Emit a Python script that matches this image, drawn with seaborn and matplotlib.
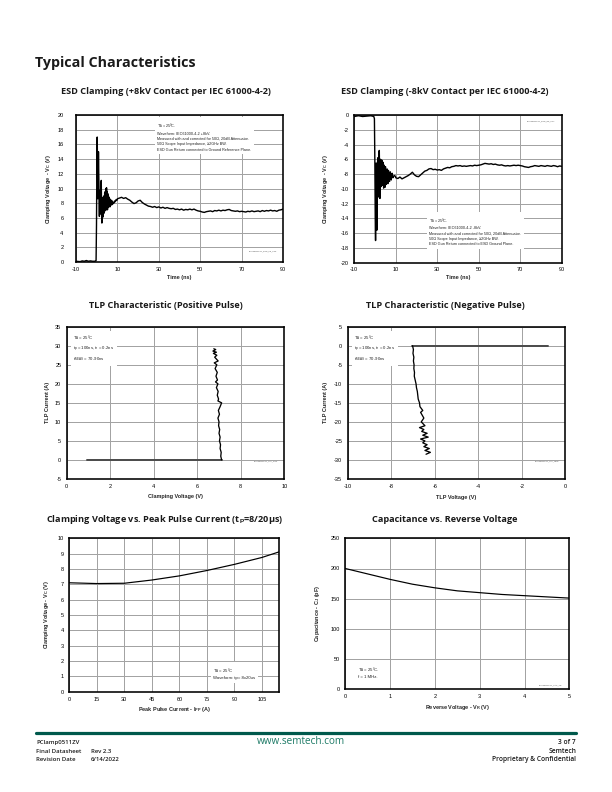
import numpy as np
import pandas as pd
import matplotlib
matplotlib.use("Agg")
import matplotlib.pyplot as plt
import matplotlib.transforms as mtransforms
import seaborn as sns

# ---------------- data ----------------
# ESD clamping +8kV (time ns, voltage V)
esd_pos_t = [-10, -8, -7, -6, -5, -4, -3, -2, -1, -0.5,
             -0.3, -0.1, 0.1, 0.25, 0.4, 0.55, 0.7, 0.85, 1.0, 1.15, 1.3, 1.45, 1.6, 1.75, 1.9,
             2.05, 2.2, 2.35, 2.5, 2.65, 2.8, 2.95, 3.1, 3.25, 3.4, 3.55, 3.7, 3.85, 4.0, 4.15,
             4.3, 4.45, 4.6, 4.75, 4.9, 5.05, 5.2, 5.35, 5.5, 5.65, 5.8, 5.95, 6.1, 6.25, 6.4,
             6.55, 6.7, 6.85, 7.0, 7.2, 7.4, 7.6, 7.8, 8.0, 8.3, 8.6, 9.0, 9.4, 9.8,
             10, 11, 12, 13, 14, 15, 16, 17, 18, 19, 20, 21, 22, 23, 24, 25, 26, 27, 28, 29,
             30, 31, 32, 33, 34, 35, 36, 37, 38, 39, 40, 41, 42, 43, 44, 45, 46, 47, 48, 49,
             50, 51, 52, 53, 54, 55, 56, 57, 58, 59, 60, 61, 62, 63, 64, 65, 66, 67, 68, 69,
             70, 71, 72, 73, 74, 75, 76, 77, 78, 79, 80, 81, 82, 83, 84, 85, 86, 87, 88, 89, 90]
esd_pos_v = [0.1, 0.05, 0.15, 0.1, 0.2, 0.1, 0.15, 0.1, 0.1, 0.15,
             0.2, 5.0, 14.0, 17.0, 12.5, 8.6, 10.5, 15.0, 12.0, 8.0, 6.2, 9.5, 6.5, 9.8, 7.0,
             10.5, 11.1, 7.5, 5.3, 8.5, 6.0, 8.8, 6.2, 8.4, 6.6, 9.0, 6.8, 9.4, 7.2, 9.6,
             7.0, 10.0, 7.2, 10.1, 7.4, 9.6, 7.1, 9.3, 7.4, 9.0, 7.5, 8.8, 7.6, 8.6, 7.5,
             8.5, 7.7, 8.3, 7.8, 8.4, 7.8, 8.2, 7.9, 8.1, 8.0, 8.3, 8.2, 8.5, 8.4,
             8.6, 8.7, 8.8, 8.65, 8.75, 8.55, 8.4, 8.15, 7.95, 8.05, 8.3, 8.4, 8.1, 7.9, 7.75, 7.6, 7.55, 7.45, 7.55, 7.4,
             7.5, 7.35, 7.45, 7.3, 7.4, 7.3, 7.25, 7.3, 7.15, 7.2, 7.1, 7.2, 7.05, 7.15, 7.1, 7.2, 7.1, 7.2, 7.05, 6.95,
             6.9, 6.8, 6.75, 6.85, 6.9, 6.95, 6.85, 7.0, 6.95, 7.05, 6.95, 7.05, 7.0, 7.1, 7.15, 7.0, 6.95, 6.9, 6.95, 6.85,
             6.9, 6.85, 6.8, 6.9, 6.85, 6.95, 6.85, 6.9, 6.95, 6.85, 7.0, 6.9, 7.0, 6.95, 7.05, 6.95, 7.0, 6.9, 7.05, 7.1, 7.2]

# ESD clamping -8kV
esd_neg_t = [-10, -8, -6, -4, -2, -0.6, -0.3,
             -0.1, 0.1, 0.25, 0.4, 0.55, 0.7, 0.85, 1.0, 1.15, 1.3, 1.45, 1.6, 1.75, 1.9,
             2.05, 2.2, 2.35, 2.5, 2.65, 2.8, 2.95, 3.1, 3.25, 3.4, 3.55, 3.7, 3.85, 4.0, 4.15,
             4.3, 4.45, 4.6, 4.75, 4.9, 5.05, 5.2, 5.4, 5.6, 5.8, 6.0, 6.2, 6.4, 6.6, 6.8,
             7.0, 7.2, 7.4, 7.6, 7.8, 8.0, 8.3, 8.6, 9.0, 9.4, 9.8,
             10, 11, 12, 13, 14, 15, 16, 17, 18, 19, 20, 21, 22, 23, 24, 25, 26, 27, 28, 29,
             30, 31, 32, 33, 34, 35, 36, 37, 38, 39, 40, 41, 42, 43, 44, 45, 46, 47, 48, 49,
             50, 51, 52, 53, 54, 55, 56, 57, 58, 59, 60, 61, 62, 63, 64, 65, 66, 67, 68, 69,
             70, 71, 72, 73, 74, 75, 76, 77, 78, 79, 80, 81, 82, 83, 84, 85, 86, 87, 88, 89, 90]
esd_neg_v = [-0.2, -0.1, -0.2, -0.15, -0.1, -0.2, -0.5,
             -6.0, -14.0, -17.0, -12.0, -6.5, -9.0, -15.6, -12.0, -7.0, -5.8, -9.5, -11.1, -7.5, -5.0,
             -4.8, -8.0, -11.3, -9.0, -6.0, -7.0, -9.7, -8.5, -6.1, -7.5, -9.5, -7.0, -6.4, -8.8, -9.9,
             -7.2, -6.8, -9.0, -9.8, -7.3, -7.0, -9.2, -9.4, -7.4, -7.3, -9.0, -9.3, -7.5, -7.6, -8.8,
             -9.0, -7.8, -7.7, -8.6, -8.8, -8.0, -7.9, -8.5, -8.3, -8.2, -8.3,
             -8.5, -8.6, -8.4, -8.65, -8.5, -8.35, -8.2, -8.0, -7.75, -8.1, -8.3, -8.35, -8.1, -7.85, -7.6, -7.5, -7.3, -7.25, -7.4, -7.35,
             -7.45, -7.4, -7.5, -7.3, -7.2, -7.1, -7.15, -7.0, -6.95, -6.85, -6.9, -6.85, -6.95, -6.9, -6.95, -6.9, -6.85, -6.9, -6.8, -6.85,
             -6.8, -6.75, -6.65, -6.55, -6.6, -6.65, -6.6, -6.7, -6.65, -6.75, -6.8, -6.75, -6.85, -6.9, -6.85, -6.9, -6.85, -6.8, -6.85, -6.8,
             -6.85, -6.9, -7.0, -7.05, -7.1, -7.0, -6.95, -6.85, -6.9, -6.95, -6.85, -6.9, -6.95, -6.85, -6.9, -6.95, -6.85, -6.9, -7.0, -6.9, -6.95]

# TLP positive pulse
tlp_pos_off_v = [0.92, 7.12]
tlp_pos_off_i = [0.0, 0.0]
tlp_pos_v = [7.12, 7.08, 7.10, 7.05, 7.07, 7.02, 7.05, 7.00, 7.03, 6.98, 7.00, 6.95, 7.02, 6.97, 7.05,
             7.12, 6.95, 6.98, 6.92, 6.96, 6.88, 6.95, 6.84, 6.93, 6.86, 6.92, 6.82, 6.90, 6.78,
             6.96, 6.80, 6.90, 6.74, 6.88, 6.72, 6.85, 6.76]
tlp_pos_i = [0.0, 1.0, 2.0, 3.0, 4.0, 5.0, 6.0, 7.0, 8.0, 9.0, 10.0, 11.0, 12.0, 13.0, 14.0,
             15.0, 15.5, 16.0, 17.0, 18.0, 19.0, 20.0, 20.5, 21.0, 22.0, 23.0, 24.0, 25.0, 25.5,
             26.0, 27.0, 27.5, 28.0, 28.3, 28.6, 29.0, 29.2]

# TLP negative pulse
tlp_neg_off_v = [-7.06, -0.78]
tlp_neg_off_i = [0.0, 0.0]
tlp_neg_v = [-7.02, -6.98, -7.00, -6.96, -6.98, -6.95, -6.96, -6.93, -6.94, -6.90, -6.86, -6.84,
             -6.80, -6.78, -6.76, -6.70, -6.68, -6.55, -6.65, -6.60, -6.50, -6.62, -6.45, -6.70,
             -6.50, -6.60, -6.35, -6.55, -6.30, -6.65, -6.45, -6.55, -6.35, -6.50, -6.25, -6.45,
             -6.20, -6.40]
tlp_neg_i = [0.0, -1.0, -2.0, -3.0, -4.0, -5.0, -6.0, -7.0, -8.0, -9.0, -10.0, -11.0,
             -12.0, -13.0, -14.0, -15.0, -16.0, -17.0, -17.5, -18.0, -19.0, -20.0, -21.0, -21.5,
             -22.0, -22.5, -23.0, -23.5, -24.0, -24.5, -25.0, -25.5, -26.0, -26.5, -27.0, -27.5,
             -28.0, -28.5]

# Clamping voltage vs peak pulse current
ipp = [0, 15, 30, 45, 60, 75, 90, 105, 114.5]
vc = [7.1, 7.05, 7.07, 7.28, 7.55, 7.9, 8.3, 8.75, 9.12]

# Capacitance vs reverse voltage
vr = [0, 0.5, 1, 1.5, 2, 2.5, 3, 3.5, 4, 4.5, 5]
cj = [200, 191, 182, 174, 168, 163, 160, 157, 155, 153, 151]

# ---------------- style ----------------
sns.set_theme(style="white")
plt.rcParams['font.family'] = ['Liberation Sans', 'DejaVu Sans']
plt.rcParams['axes.unicode_minus'] = False
plt.rcParams['mathtext.fontset'] = 'custom'
plt.rcParams['mathtext.rm'] = 'Liberation Sans'
plt.rcParams['mathtext.it'] = 'Liberation Sans'
plt.rcParams['mathtext.bf'] = 'Liberation Sans:bold'

W, H = 612, 792
fig = plt.figure(figsize=(W / 72, H / 72), dpi=72)
fig.patch.set_facecolor('white')

GRID = '#a3a3a3'
TICK_FS = 5.5
LAB_FS = 5.5
TITLE_FONT = ['Open Sans', 'DejaVu Sans']
GREEN = '#00594c'


def make_ax(x0, y0, x1, y1):
    return fig.add_axes([x0 / W, 1 - y1 / H, (x1 - x0) / W, (y1 - y0) / H])


def style_ax(ax, xlim, ylim, xticks, yticks, xlabel, ylabel, ylab_x, xlab_y, ypad=5.5, xpad=4.5):
    ax.set_xlim(*xlim)
    ax.set_ylim(*ylim)
    ax.set_xticks(xticks)
    ax.set_yticks(yticks)
    ax.grid(True, color=GRID, lw=1.0)
    ax.set_axisbelow(True)
    for s in ax.spines.values():
        s.set_color('black')
        s.set_linewidth(1.6)
        s.set_visible(True)
    ax.tick_params(axis='both', length=0, labelsize=TICK_FS, colors='black')
    ax.tick_params(axis='y', pad=ypad)
    ax.tick_params(axis='x', pad=xpad)
    ax.set_xlabel(xlabel, fontsize=LAB_FS, fontweight='bold')
    ax.set_ylabel(ylabel, fontsize=LAB_FS, fontweight='bold')
    ax.yaxis.set_label_coords(ylab_x / W, 0.5,
                              transform=mtransforms.blended_transform_factory(fig.transFigure, ax.transAxes))
    ax.xaxis.set_label_coords(0.5, 1 - xlab_y / H,
                              transform=mtransforms.blended_transform_factory(ax.transAxes, fig.transFigure))
    ax.xaxis.label.set_va('center')
    ax.yaxis.label.set_va('center')
    ax.set_facecolor('white')


def note(ax, x, y, lines, ha='left', fs=4.0):
    ax.text(x, y, "\n".join(lines), transform=ax.transAxes, ha=ha, va='top', fontsize=fs,
            linespacing=1.45, color='#222222',
            bbox=dict(facecolor='white', edgecolor='none', pad=2.5), zorder=3)


def tiny(ax, x, y, s):
    ax.text(x, y, s, transform=ax.transAxes, ha='right', va='center', fontsize=2.0,
            color='#555555', zorder=3)


def title(x, y, s):
    fig.text(x / W, 1 - y / H, s, ha='center', va='center', fontsize=9.1, fontweight='bold',
             family=TITLE_FONT, color='#1a1a1a')


# heading
fig.text(35 / W, 1 - 63 / H, "Typical Characteristics", ha='left', va='center', fontsize=14.2,
         fontweight='bold', family=TITLE_FONT, color='#1a1a1a')

# ---- Plot 1: ESD +8kV ----
title(165.5, 92, "ESD Clamping (+8kV Contact per IEC 61000-4-2)")
ax1 = make_ax(76, 115, 283, 262)
sns.lineplot(x=esd_pos_t, y=esd_pos_v, ax=ax1, sort=False, estimator=None, color='black', lw=1.4)
style_ax(ax1, (-10, 90), (0, 20), range(-10, 91, 20), range(0, 21, 2), "Time (ns)",
         "Clamping Voltage  - V$_\\mathregular{C}$ (V)", 49, 277.7, ypad=12.5, xpad=4.5)
note(ax1, 0.392, 0.955, ["T$_\\mathregular{A}$ = 25ºC.", "Waveform: IEC61000-4-2 +8kV.",
                         "Measured with and corrected for 50Ω, 20dB Attenuator.",
                         "50Ω Scope Input Impedance, ≥2GHz BW.",
                         "ESD Gun Return connected to Ground Reference Plane."], fs=3.7)
tiny(ax1, 0.97, 0.075, "PClamp0511ZV_ESD_P8_CNT")

# ---- Plot 2: ESD -8kV ----
title(444.7, 92, "ESD Clamping (-8kV Contact per IEC 61000-4-2)")
ax2 = make_ax(354.3, 115, 561.7, 262.7)
sns.lineplot(x=esd_neg_t, y=esd_neg_v, ax=ax2, sort=False, estimator=None, color='black', lw=1.4)
style_ax(ax2, (-10, 90), (-20, 0), range(-10, 91, 20), range(-20, 1, 2), "Time (ns)",
         "Clamping Voltage  - V$_\\mathregular{C}$ (V)", 325, 277.7, ypad=5.5, xpad=4.5)
note(ax2, 0.362, 0.315, ["T$_\\mathregular{A}$ = 25ºC.", "Waveform: IEC61000-4-2 -8kV.",
                         "Measured with and corrected for 50Ω, 20dB Attenuator.",
                         "50Ω Scope Input Impedance, ≥2GHz BW.",
                         "ESD Gun Return connected to ESD Ground Plane."], fs=3.7)
tiny(ax2, 0.97, 0.955, "PClamp0511ZV_ESD_N8_CNT")

# ---- Plot 3: TLP positive ----
title(165.7, 305, "TLP Characteristic (Positive Pulse)")
ax3 = make_ax(66.7, 326.7, 284.3, 479)
sns.lineplot(x=tlp_pos_off_v, y=tlp_pos_off_i, ax=ax3, sort=False, estimator=None, color='#4d4d4d', lw=2.0)
sns.lineplot(x=tlp_pos_v, y=tlp_pos_i, ax=ax3, sort=False, estimator=None, color='black', lw=1.3)
style_ax(ax3, (0, 10), (-5, 35), range(0, 11, 2), range(-5, 36, 5), "Clamping Voltage (V)",
         "TLP Current (A)", 47.7, 496.7, ypad=5.5, xpad=5)
note(ax3, 0.03, 0.955, ["T$_\\mathregular{A}$ = 25ºC", "t$_\\mathregular{p}$ = 100ns, t$_\\mathregular{r}$ = 0.2ns",
                        "t$_\\mathregular{MEAS}$ = 70-90ns"], fs=4.2)
tiny(ax3, 0.97, 0.115, "PClamp0511ZV_TLP_POS")

# ---- Plot 4: TLP negative ----
title(445.7, 305, "TLP Characteristic (Negative Pulse)")
ax4 = make_ax(347.7, 326.7, 565.3, 479)
sns.lineplot(x=tlp_neg_off_v, y=tlp_neg_off_i, ax=ax4, sort=False, estimator=None, color='#4d4d4d', lw=2.0)
sns.lineplot(x=tlp_neg_v, y=tlp_neg_i, ax=ax4, sort=False, estimator=None, color='black', lw=1.3)
style_ax(ax4, (-10, 0), (-35, 5), range(-10, 1, 2), range(-35, 6, 5), "TLP Voltage (V)",
         "TLP Current (A)", 326, 498, ypad=5.5, xpad=5)
note(ax4, 0.03, 0.955, ["T$_\\mathregular{A}$ = 25ºC", "t$_\\mathregular{p}$ = 100ns, t$_\\mathregular{r}$ = 0.2ns",
                        "t$_\\mathregular{MEAS}$ = 70-90ns"], fs=4.2)
tiny(ax4, 0.97, 0.12, "PClamp0511ZV_TLP_NEG")

# ---- Plot 5: Vc vs Ipp ----
title(165, 520, "Clamping Voltage vs. Peak Pulse Current (t$_\\mathbf{P}$=8/20µs)")
ax5 = make_ax(69.3, 538.3, 279.3, 691.7)
sns.lineplot(x=ipp, y=vc, ax=ax5, sort=False, estimator=None, color='black', lw=1.2)
style_ax(ax5, (0, 114.5), (0, 10), range(0, 106, 15), range(0, 11, 1), "Peak Pulse Current - I$_\\mathregular{PP}$ (A)",
         "Clamping Voltage - V$_\\mathregular{C}$ (V)", 46.7, 709, ypad=5.3, xpad=5)
note(ax5, 0.686, 0.165, ["T$_\\mathregular{A}$ = 25ºC", "Waveform: tp= 8x20us"], fs=4.2)

# ---- Plot 6: Capacitance ----
title(445, 520, "Capacitance vs. Reverse Voltage")
ax6 = make_ax(345.3, 538.3, 569.3, 689.3)
sns.lineplot(x=vr, y=cj, ax=ax6, sort=False, estimator=None, color='black', lw=1.2)
style_ax(ax6, (0, 5), (0, 250), range(0, 6, 1), range(0, 251, 50), "Reverse Voltage - V$_\\mathregular{R}$ (V)",
         "Capacitance - C$_\\mathregular{J}$ (pF)", 317.7, 707.3, ypad=5.3, xpad=5)
note(ax6, 0.055, 0.16, ["T$_\\mathregular{A}$ = 25ºC.", "f = 1 MHz."], fs=4.2)
tiny(ax6, 0.97, 0.03, "PClamp0511ZV_CAP_VR")

# ---- footer ----
fig.add_artist(plt.Line2D([36 / W, 576 / W], [1 - 732.5 / H, 1 - 732.5 / H], color=GREEN, lw=3.2))
FOOT = dict(fontsize=6.0, family=TITLE_FONT, color='#1a1a1a', va='center', fontweight='semibold')
FOOT_R = dict(FOOT, fontsize=6.6)
fig.text(36 / W, 1 - 742.5 / H, "PClamp0511ZV", ha='left', **FOOT)
fig.text(36 / W, 1 - 751.2 / H, "Final Datasheet", ha='left', **FOOT)
fig.text(36 / W, 1 - 759.9 / H, "Revision Date", ha='left', **FOOT)
fig.text(91 / W, 1 - 751.2 / H, "Rev 2.3", ha='left', **FOOT)
fig.text(91 / W, 1 - 759.9 / H, "6/14/2022", ha='left', **FOOT)
fig.text(576 / W, 1 - 742.5 / H, "3 of 7", ha='right', **FOOT_R)
fig.text(576 / W, 1 - 751.2 / H, "Semtech", ha='right', **FOOT_R)
fig.text(576 / W, 1 - 759.9 / H, "Proprietary & Confidential", ha='right', **FOOT_R)
fig.text(301 / W, 1 - 742 / H, "www.semtech.com", ha='center', va='center', fontsize=10,
         family=TITLE_FONT, color='#1d7a66')

fig.savefig("out.png", dpi=72, facecolor='white')
